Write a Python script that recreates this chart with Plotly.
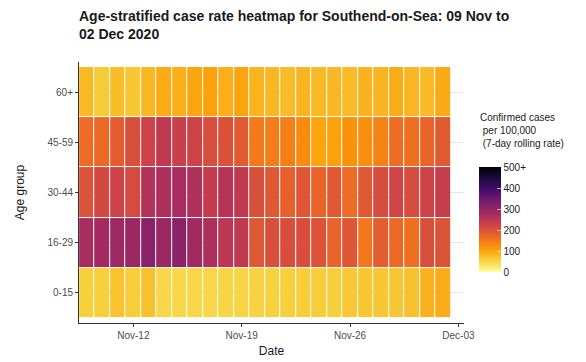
import pandas as pd
import plotly.graph_objects as go

# --- data ---
dates = pd.date_range("2020-11-09", "2020-12-02", freq="D")
age_groups = ["0-15", "16-29", "30-44", "45-59", "60+"]

rate_0_15 = [57, 57, 70, 60, 73, 48, 48, 49, 50, 51, 52, 53,
             54, 57, 59, 60, 58, 64, 67, 66, 67, 71, 88, 93]
rate_16_29 = [275, 280, 288, 290, 312, 292, 310, 283, 268, 250, 245, 192,
              205, 207, 207, 200, 175, 195, 152, 185, 168, 160, 205, 198]
rate_30_44 = [200, 215, 228, 212, 262, 268, 275, 265, 240, 258, 245, 205,
              192, 180, 195, 175, 190, 165, 192, 210, 222, 210, 228, 238]
rate_45_59 = [165, 168, 185, 205, 225, 245, 232, 225, 208, 202, 188, 148,
              145, 142, 128, 102, 105, 120, 125, 138, 162, 160, 175, 188]
rate_60_plus = [80, 62, 75, 65, 82, 95, 92, 100, 105, 92, 102, 85,
                82, 78, 85, 80, 82, 77, 86, 84, 94, 83, 79, 96]

cbar_vals = [0, 100, 200, 300, 400, 500]
cbar_text = ["0", "100", "200", "300", "400", "500+"]

z = [rate_0_15, rate_16_29, rate_30_44, rate_45_59, rate_60_plus]

font_family = "Liberation Sans, Arial, sans-serif"

# the page body adds an 8px margin, so the figure is drawn 8px smaller
W, H = 578, 354

fig = go.Figure(go.Heatmap(
    x=dates,
    y=age_groups,
    z=z,
    zmin=0, zmax=500,
    colorscale="Inferno", reversescale=True,
    xgap=1, ygap=1,
    colorbar=dict(
        x=1.039, xanchor="left", xpad=0,
        y=0.395, yanchor="middle", ypad=0,
        len=105, lenmode="pixels",
        thickness=22, outlinewidth=0,
        tickvals=cbar_vals, ticktext=cbar_text,
        ticks="inside", ticklen=4, tickcolor="rgba(255,255,255,0.6)",
        tickfont=dict(size=10, color="#1a1a1a", family=font_family),
    ),
))

fig.update_layout(
    width=W, height=H,
    margin=dict(l=71, r=122, t=54, b=39, autoexpand=False),
    plot_bgcolor="white", paper_bgcolor="white",
    font=dict(family=font_family, color="#1a1a1a"),
    title=dict(
        text="<b>Age-stratified case rate heatmap for Southend-on-Sea: 09 Nov to<br>02 Dec 2020</b>",
        x=71 / W, xanchor="left", xref="container",
        y=1 - 13 / H, yanchor="top", yref="container",
        font=dict(size=14, color="#1a1a1a"),
    ),
    annotations=[dict(
        text="Confirmed cases<br> per 100,000<br> (7-day rolling rate)",
        xref="paper", yref="paper",
        x=1.036, y=0.66, xanchor="left", yanchor="bottom",
        align="left", showarrow=False,
        font=dict(size=10, color="#1a1a1a"),
    )],
)

fig.update_xaxes(
    type="date",
    range=["2020-11-08 11:45", "2020-12-03 08:40"],
    tick0="2020-11-12", dtick=7 * 24 * 3600 * 1000,
    tickformat="%b-%d",
    showgrid=False, zeroline=False,
    showline=True, linecolor="#333333", linewidth=1,
    ticks="outside", ticklen=3, tickcolor="#333333",
    tickfont=dict(size=10, color="#4d4d4d"),
    title=dict(text="Date", font=dict(size=12), standoff=6),
    automargin=False,
)
fig.update_yaxes(
    type="category",
    categoryorder="array", categoryarray=age_groups,
    range=[-0.6, 4.6],
    showgrid=True, gridcolor="#e6e6e6", gridwidth=1, zeroline=False,
    showline=True, linecolor="#333333", linewidth=1,
    ticks="outside", ticklen=3, tickcolor="#333333",
    tickfont=dict(size=10, color="#4d4d4d"),
    title=dict(text="Age group", font=dict(size=12), standoff=20),
    automargin=False,
)

fig.write_html("out.html")
